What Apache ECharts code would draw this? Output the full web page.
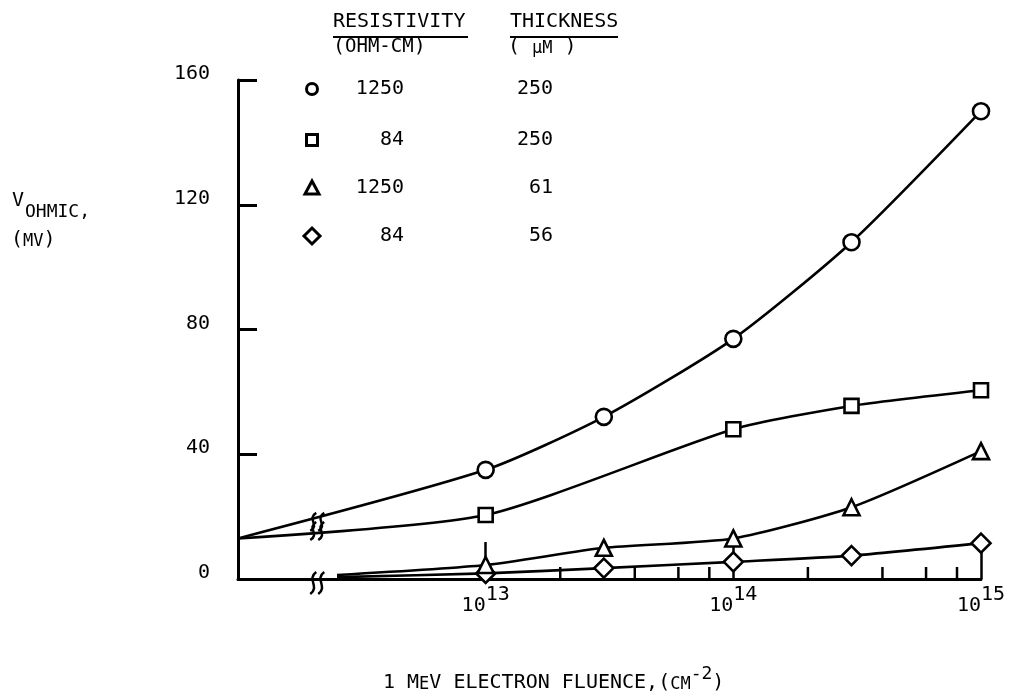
<!DOCTYPE html>
<html>
<head>
<meta charset="utf-8">
<script src="https://cdn.jsdelivr.net/npm/echarts@6/dist/echarts.min.js"></script>
<style>
html,body{margin:0;padding:0;background:#fff;}
#chart{width:1011px;height:697px;}
</style>
</head>
<body>
<div id="chart"></div>
<script>
// ---- data ----
const fluence = [1e13, 3e13, 1e14, 3e14, 1e15];             // 1 MeV electron fluence, cm^-2
const circleMv   = [35, 52, 77, 108, 150];                   // 1250 ohm-cm, 250 um
const squareMv   = [20.5, null, 48, 55.5, 60.5];             // 84 ohm-cm, 250 um
const triangleMv = [4.5, 10, 13, 23, 41];                    // 1250 ohm-cm, 61 um
const diamondMv  = [1.8, 3.5, 5.5, 7.5, 11.5];               // 84 ohm-cm, 56 um
const zeroFluenceMv = [13, 13, null, null];                  // curve intercepts at zero fluence
const afterBreakMv  = [null, null, 1.3, 0.6];                // curve starts just after the axis break
const yTicks = [0, 40, 80, 120, 160];
const xDecades = [12, 13, 14, 15];
const xTickLabels = ['', '13', '14', '15'];
const minorFluence = [2e13, 4e13, 6e13, 8e13, 2e14, 4e14, 6e14, 8e14];
const resistivity = ['1250', '84', '1250', '84'];
const thickness = ['250', '250', '61', '56'];
const symbols = ['circle', 'rect', 'triangle', 'diamond'];
const breakLogX = 12.32;
const breakMv = [0, 18.3, 15.4];

// ---- chart ----
const FONT = "'DejaVu Sans Mono','Liberation Mono',monospace";
const chart = echarts.init(document.getElementById('chart'), null, {renderer: 'canvas'});
const seriesValues = [circleMv, squareMv, triangleMv, diamondMv];
const symbolSizes = [16, 14, 16, 19];

function buildLine(vals, i) {
  const data = [];
  if (zeroFluenceMv[i] != null) data.push({value: [xDecades[0], zeroFluenceMv[i]], symbol: 'none'});
  if (afterBreakMv[i] != null) data.push({value: [12.4, afterBreakMv[i]], symbol: 'none'});
  fluence.forEach((f, k) => { if (vals[k] != null) data.push([Math.log10(f), vals[k]]); });
  return {
    type: 'line', data: data, smooth: 0.22, connectNulls: true,
    symbol: symbols[i], symbolSize: symbolSizes[i], showAllSymbol: true,
    lineStyle: {color: '#000', width: 2.6},
    itemStyle: {color: '#fff', borderColor: '#000', borderWidth: 2.6},
    z: 5 - i, clip: false, animation: false
  };
}

const series = seriesValues.map(buildLine);
// minor log ticks
series.push({
  type: 'custom', data: minorFluence.map(f => [Math.log10(f), 0]), clip: false, z: 1,
  renderItem: function (params, api) {
    const p = api.coord([api.value(0), 0]);
    return {type: 'line', shape: {x1: p[0], y1: p[1], x2: p[0], y2: p[1] - 12},
            style: {stroke: '#000', lineWidth: 2.5}};
  }, animation: false
});
// axis break marks
series.push({
  type: 'custom', data: breakMv.map(v => [breakLogX, v]), clip: false, z: 10,
  renderItem: function (params, api) {
    const p = api.coord([api.value(0), api.value(1)]);
    const h = params.dataIndex === 0 ? 11 : 9;
    const cy = params.dataIndex === 0 ? p[1] + 4 : p[1];
    const mk = (dx) => ({type: 'bezierCurve',
      shape: {x1: p[0] + dx + 3, y1: cy - h, cpx1: p[0] + dx - 7, cpy1: cy - h / 3,
              cpx2: p[0] + dx + 7, cpy2: cy + h / 3, x2: p[0] + dx - 3, y2: cy + h},
      style: {stroke: '#000', fill: null, lineWidth: 2.5}});
    return {type: 'group', children: [mk(-4), mk(4)]};
  }, animation: false
});

const legendRowsY = [89, 140, 188, 236];
const txt = (size) => size + 'px ' + FONT;
const graphics = [];
// y-axis title
graphics.push({type: 'text', left: 12, top: 191, style: {text: 'V', font: txt(20), fill: '#000'}});
graphics.push({type: 'text', left: 25, top: 203, style: {text: 'OHMIC,', font: txt(18), fill: '#000'}});
graphics.push({type: 'text', left: 11, top: 230, style: {
  text: '{p|(}{s|MV}{p|)}', rich: {p: {font: txt(20), fill: '#000', lineHeight: 24, verticalAlign: 'bottom'}, s: {font: txt(17), fill: '#000', lineHeight: 24, verticalAlign: 'bottom'}}}});
// x-axis title
graphics.push({type: 'text', left: 383, top: 665, style: {
  text: '{n|1 M}{s|E}{n|V ELECTRON FLUENCE,(}{s|CM}{u|-2}{n|)}',
  rich: {n: {font: txt(20), fill: '#000', lineHeight: 28, verticalAlign: 'bottom'},
         s: {font: txt(17), fill: '#000', lineHeight: 28, verticalAlign: 'bottom'},
         u: {font: txt(18), fill: '#000', lineHeight: 28, verticalAlign: 'top'}}}});
// legend headers
graphics.push({type: 'text', left: 333, top: 12, style: {text: 'RESISTIVITY', font: txt(20), fill: '#000'}});
graphics.push({type: 'line', shape: {x1: 333, y1: 37, x2: 468, y2: 37}, style: {stroke: '#000', lineWidth: 2}});
graphics.push({type: 'text', left: 333, top: 37, style: {
  text: '{p|(}{s|OHM-CM}{p|)}', rich: {p: {font: txt(20), fill: '#000', lineHeight: 22, verticalAlign: 'bottom'}, s: {font: txt(19), fill: '#000', lineHeight: 22, verticalAlign: 'bottom'}}}});
graphics.push({type: 'text', left: 510, top: 12, style: {text: 'THICKNESS', font: txt(20), fill: '#000'}});
graphics.push({type: 'line', shape: {x1: 510, y1: 37, x2: 618, y2: 37}, style: {stroke: '#000', lineWidth: 2}});
graphics.push({type: 'text', left: 508, top: 37, style: {
  text: '{p|( }{s|µM}{p| )}', rich: {p: {font: txt(20), fill: '#000', lineHeight: 22, verticalAlign: 'bottom'}, s: {font: txt(17), fill: '#000', lineHeight: 22, verticalAlign: 'bottom'}}}});
// legend rows
const lw = 3;
legendRowsY.forEach((y, i) => {
  const x = 312;
  if (symbols[i] === 'circle') graphics.push({type: 'circle', shape: {cx: x, cy: y, r: 5.5}, style: {fill: '#fff', stroke: '#000', lineWidth: lw}});
  if (symbols[i] === 'rect') graphics.push({type: 'rect', shape: {x: x - 5.5, y: y - 5.5, width: 11, height: 11}, style: {fill: '#fff', stroke: '#000', lineWidth: lw}});
  if (symbols[i] === 'triangle') graphics.push({type: 'polygon', shape: {points: [[x, y - 7], [x + 7, y + 6], [x - 7, y + 6]]}, style: {fill: '#fff', stroke: '#000', lineWidth: lw}});
  if (symbols[i] === 'diamond') graphics.push({type: 'polygon', shape: {points: [[x, y - 8], [x + 8, y], [x, y + 8], [x - 8, y]]}, style: {fill: '#fff', stroke: '#000', lineWidth: lw}});
  graphics.push({type: 'text', x: 404, y: y, style: {text: resistivity[i], font: txt(20), fill: '#000', align: 'right', verticalAlign: 'middle'}});
  graphics.push({type: 'text', x: 553, y: y, style: {text: thickness[i], font: txt(20), fill: '#000', align: 'right', verticalAlign: 'middle'}});
});

chart.setOption({
  backgroundColor: '#fff',
  animation: false,
  grid: {left: 238, right: 30, top: 80, bottom: 118, containLabel: false},
  xAxis: {
    type: 'value', min: xDecades[0], max: xDecades[xDecades.length - 1], interval: 1,
    axisLine: {lineStyle: {color: '#000', width: 3}},
    axisTick: {inside: true, length: 37, lineStyle: {color: '#000', width: 2.5}},
    splitLine: {show: false},
    axisLabel: {
      margin: 6,
      formatter: function (v) { const i = xDecades.indexOf(Math.round(v)); return xTickLabels[i] ? '{b|10}{s|' + xTickLabels[i] + '}' : ''; },
      rich: {b: {fontSize: 20, fontFamily: FONT, color: '#000', lineHeight: 31, verticalAlign: 'bottom'},
             s: {fontSize: 20, fontFamily: FONT, color: '#000', lineHeight: 31, verticalAlign: 'top'}}
    }
  },
  yAxis: {
    type: 'value', min: yTicks[0], max: yTicks[yTicks.length - 1], interval: 40,
    axisLine: {show: true, lineStyle: {color: '#000', width: 3}},
    axisTick: {show: true, inside: true, length: 19, lineStyle: {color: '#000', width: 3}},
    splitLine: {show: false},
    axisLabel: {margin: 28, color: '#000', fontSize: 20, fontFamily: FONT, verticalAlign: 'bottom', lineHeight: 12}
  },
  graphic: graphics,
  series: series
});
</script>
</body>
</html>
